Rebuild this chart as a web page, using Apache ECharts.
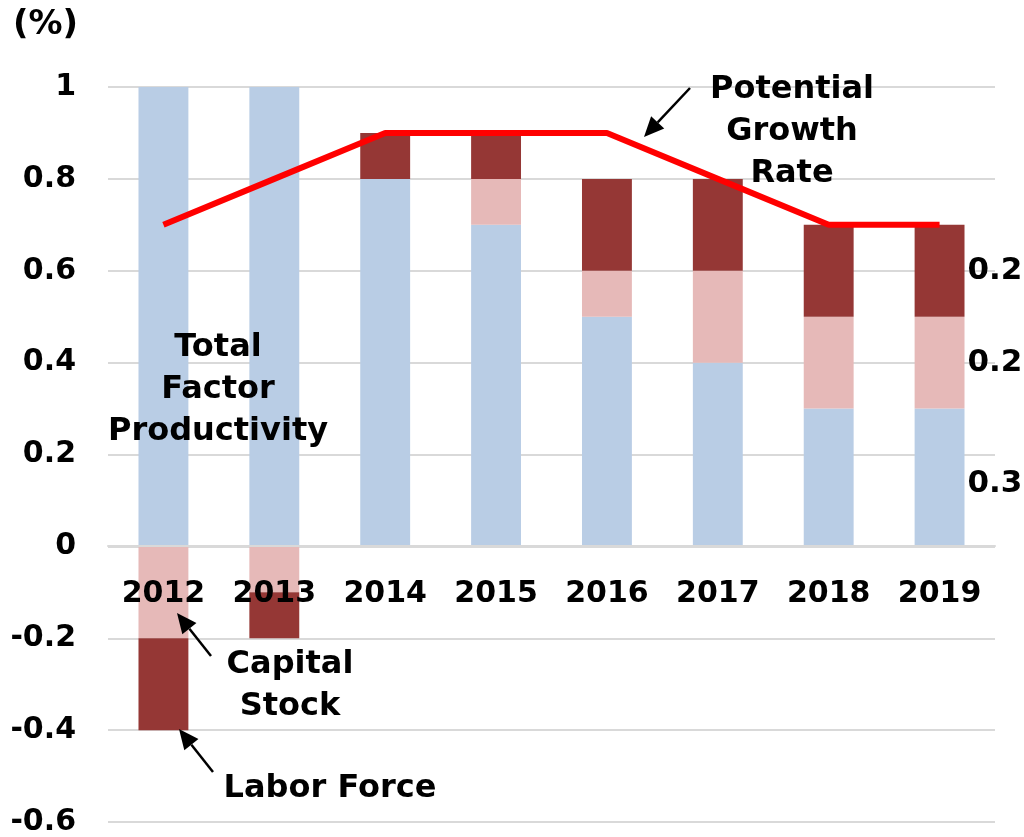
<!DOCTYPE html>
<html>
<head>
<meta charset="utf-8">
<script src="https://cdn.jsdelivr.net/npm/echarts@6/dist/echarts.min.js"></script>
<style>
  html, body { margin: 0; padding: 0; background: #fff; }
  #chart { width: 1024px; height: 837px; }
</style>
</head>
<body>
<div id="chart"></div>
<script>
var years = ["2012", "2013", "2014", "2015", "2016", "2017", "2018", "2019"];
var tfp = [1.1, 1.0, 0.8, 0.7, 0.5, 0.4, 0.3, 0.3];
var capitalStock = [-0.2, -0.1, 0, 0.1, 0.1, 0.2, 0.2, 0.2];
var laborForce = [-0.2, -0.1, 0.1, 0.1, 0.2, 0.2, 0.2, 0.2];
var potentialGrowth = [0.7, 0.8, 0.9, 0.9, 0.9, 0.8, 0.7, 0.7];

var FONT = "DejaVu Sans";
var chart = echarts.init(document.getElementById("chart"));

// label only the last year's segments, to the right of the bar
function withLastLabel(arr, dy) {
  return arr.map(function (v, i) {
    if (i !== arr.length - 1) return v;
    return {
      value: v,
      label: {
        show: true,
        position: "right",
        distance: 3,
        offset: [0, dy || 0],
        formatter: function (p) { return p.value.toFixed(1); },
        color: "#000",
        fontFamily: FONT,
        fontWeight: "bold",
        fontSize: 31
      }
    };
  });
}

function arrow(x1, y1, x2, y2) {
  var ang = Math.atan2(y2 - y1, x2 - x1);
  var len = 20, w = 9;
  var bx = x2 - len * Math.cos(ang), by = y2 - len * Math.sin(ang);
  var px = -Math.sin(ang) * w, py = Math.cos(ang) * w;
  return [
    {
      type: "line",
      shape: { x1: x1, y1: y1, x2: bx, y2: by },
      style: { stroke: "#000", lineWidth: 2.5 },
      z: 100
    },
    {
      type: "polygon",
      shape: { points: [[x2, y2], [bx + px, by + py], [bx - px, by - py]] },
      style: { fill: "#000" },
      z: 100
    }
  ];
}

function note(x, y, text) {
  return {
    type: "text",
    x: x,
    y: y,
    z: 100,
    style: {
      text: text,
      fill: "#000",
      font: "bold 32px '" + FONT + "'",
      align: "center",
      verticalAlign: "middle",
      lineHeight: 42
    }
  };
}

var graphics = [
  {
    type: "text",
    left: 13,
    top: 8,
    style: { text: "(%)", fill: "#000", font: "bold 34px '" + FONT + "'" }
  },
  note(218, 390, "Total\nFactor\nProductivity"),
  note(792, 132, "Potential\nGrowth\nRate"),
  note(290, 686, "Capital\nStock"),
  note(330, 789, "Labor Force")
]
  .concat(arrow(690, 88, 644, 137))
  .concat(arrow(211, 656, 177, 613))
  .concat(arrow(213, 772, 179, 729));

var option = {
  animation: false,
  grid: { left: 108, right: 29, top: 87, bottom: 15, containLabel: false, outerBoundsMode: "none" },
  xAxis: {
    type: "category",
    data: years,
    z: 10,
    offset: -276,
    axisLine: { onZero: false, lineStyle: { color: "#d9d9d9", width: 2 } },
    axisTick: { show: false },
    axisLabel: {
      margin: 33,
      color: "#000",
      fontFamily: FONT,
      fontWeight: "bold",
      fontSize: 30
    }
  },
  yAxis: {
    type: "value",
    min: -0.6,
    max: 1,
    interval: 0.2,
    axisLine: { show: false },
    axisTick: { show: false },
    splitLine: { lineStyle: { color: "#d9d9d9", width: 2 } },
    axisLabel: {
      margin: 32,
      color: "#000",
      fontFamily: FONT,
      fontWeight: "bold",
      fontSize: 30,
      formatter: function (v) { return String(Math.round(v * 10) / 10); }
    }
  },
  series: [
    {
      name: "Total Factor Productivity",
      type: "bar",
      stack: "g",
      barWidth: "45%",
      clip: true,
      itemStyle: { color: "#b9cde5" },
      data: withLastLabel(tfp, 6)
    },
    {
      name: "Capital Stock",
      type: "bar",
      stack: "g",
      clip: true,
      itemStyle: { color: "#e6b9b8" },
      data: withLastLabel(capitalStock)
    },
    {
      name: "Labor Force",
      type: "bar",
      stack: "g",
      clip: true,
      itemStyle: { color: "#953735" },
      data: withLastLabel(laborForce)
    },
    {
      name: "Potential Growth Rate",
      type: "line",
      z: 5,
      symbol: "none",
      lineStyle: { color: "#ff0000", width: 6 },
      data: potentialGrowth
    }
  ],
  graphic: graphics
};

chart.setOption(option);
</script>
</body>
</html>
